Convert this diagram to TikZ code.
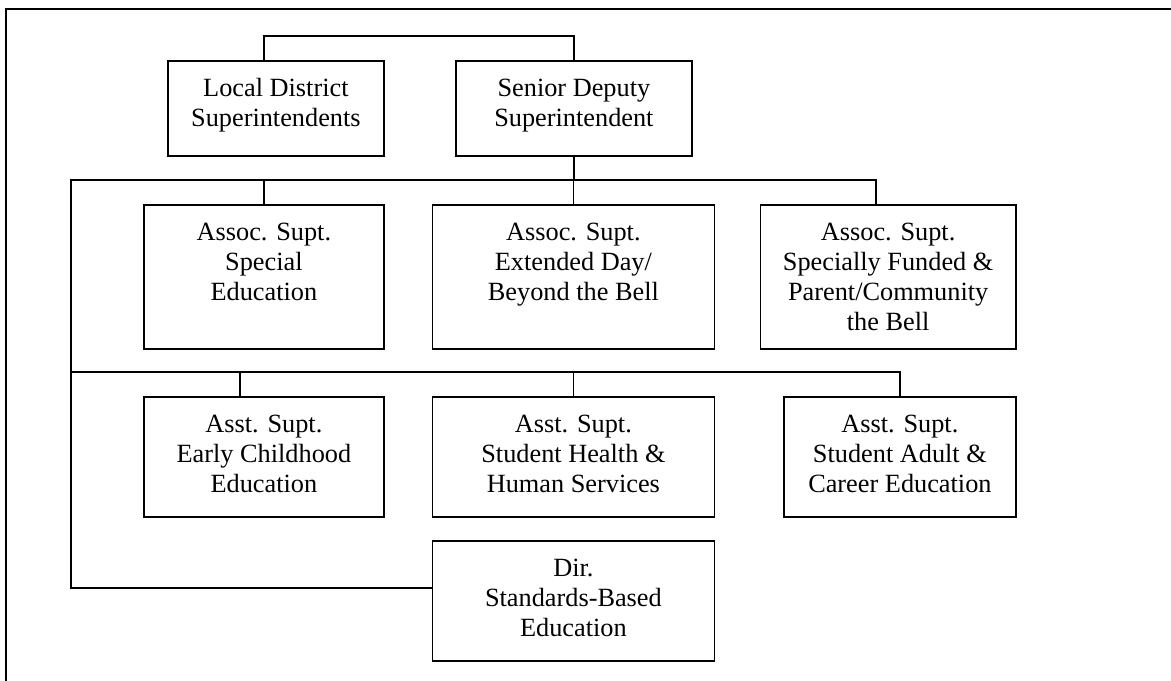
\documentclass[tikz,border=0pt]{standalone}
\usepackage{fontspec}
\setmainfont{Liberation Serif}
% one org-chart box: name, left, top, width, height, text (top-aligned lines)
\newcommand\orgbox[6]{%
  \node[orgnode, minimum width=#4bp, minimum height=#5bp] (#1) at (#2,#3)
    {\parbox[c][#5bp][t]{#4bp}{\centering\fontsize{26.4}{30}\selectfont
      \vspace*{15bp}\strut #6}};}
\begin{document}
\begin{tikzpicture}[x=1bp, y=-1bp,
  wire/.style={draw, line width=1.8bp, line join=miter},
  orgnode/.style={draw, line width=1.8bp, inner sep=0pt, anchor=north west}]
\useasboundingbox (0,0) rectangle (1171,681);

% page frame (top and left edges)
\coordinate (frameLow) at (5.7,690);
\coordinate (frameCorner) at (5.7,9);
\coordinate (frameRight) at (1180,9);
\draw[wire] (frameLow) -- (frameCorner) -- (frameRight);

% top row
\orgbox{ld}{167}{60}{216}{95}{Local District\\Superintendents}
\orgbox{sd}{455}{60}{236}{95}{Senior Deputy\\Superintendent}

% associate superintendents
\orgbox{b1}{143}{204}{240}{144}{Assoc. Supt.\\Special\\Education}
\orgbox{b2}{431.5}{204}{282}{144}{Assoc. Supt.\\Extended Day/\\Beyond the Bell}
\orgbox{b3}{759.5}{204}{255.5}{144}{Assoc. Supt.\\Specially Funded \&\\Parent/Community\\the Bell}

% assistant superintendents
\orgbox{b4}{143}{396}{240}{120}{Asst. Supt.\\Early Childhood\\Education}
\orgbox{b5}{431.5}{396}{282}{120}{Asst. Supt.\\Student Health \&\\Human Services}
\orgbox{b6}{783}{396}{232}{120}{Asst. Supt.\\Student Adult \&\\Career Education}

% director
\orgbox{dir}{431.5}{540}{282}{120}{Dir.\\Standards-Based\\Education}

% connectors
\coordinate (topbar) at (0,35.7);
\coordinate (bus1) at (70.8,180);
\coordinate (bus2) at (70.8,372);
\coordinate (trunkEnd) at (70.8,587.7);

\draw[wire] (ld.north -| b1.north) |- (topbar -| sd.north) -- (sd.north);
\draw[wire] (sd.south) -- (sd.south |- bus1);

\draw[wire] ([xshift=-12bp]b3.north) |- (bus1) -- (trunkEnd) -- (dir.west |- trunkEnd);
\draw[wire] (b1.north) -- (b1.north |- bus1);
\draw[wire] (b2.north) -- (b2.north |- bus1);

\draw[wire] (bus2) -| (b6.north);
\draw[wire] ([xshift=-24bp]b4.north) -- ([xshift=-24bp]b4.north |- bus2);
\draw[wire] (b5.north) -- (b5.north |- bus2);
\end{tikzpicture}
\end{document}
